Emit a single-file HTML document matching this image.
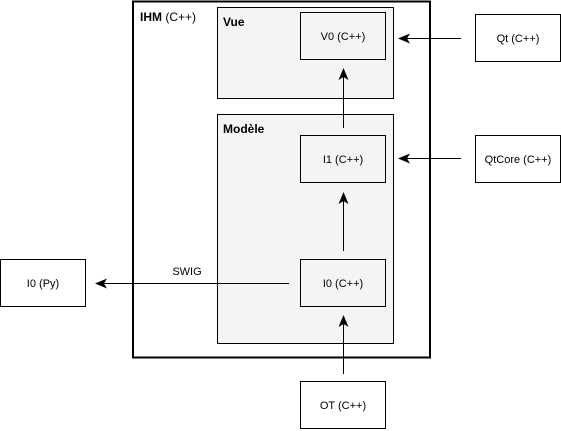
<!DOCTYPE html>
<html><head><meta charset="utf-8"><style>
html,body{margin:0;padding:0;background:#fff;}
svg{display:block;font-family:"Liberation Sans",sans-serif;}
</style></head><body>
<svg width="561" height="431" viewBox="0 0 561 431">
<defs><marker id="ah" markerWidth="12" markerHeight="10" refX="11" refY="5" orient="auto" markerUnits="userSpaceOnUse"><path d="M0,0 L12,5 L0,10 L3,5 Z" fill="#000"/></marker></defs>
<g>
<rect x="133" y="1.5" width="297" height="356" fill="#fff" stroke="#000" stroke-width="2"/>
<text x="140" y="21" font-size="12"><tspan font-weight="bold">IHM</tspan> (C++)</text></g>
<g>
<rect x="217.5" y="7.5" width="176" height="91" fill="#f4f4f4" stroke="#000" stroke-width="1"/>
<text x="223" y="26" font-size="12" font-weight="bold">Vue</text></g>
<g>
<rect x="217.5" y="114.5" width="176" height="229" fill="#f4f4f4" stroke="#000" stroke-width="1"/>
<text x="223" y="133" font-size="12" font-weight="bold">Modèle</text></g>
<g font-size="11" text-anchor="middle">
<g><rect x="300.5" y="12.5" width="85" height="47" fill="#f4f4f4" stroke="#000"/><text x="343" y="40">V0 (C++)</text></g>
<g><rect x="300.5" y="135.5" width="85" height="47" fill="#f4f4f4" stroke="#000"/><text x="343" y="163">I1 (C++)</text></g>
<g><rect x="300.5" y="259.5" width="85" height="47" fill="#f4f4f4" stroke="#000"/><text x="343" y="287">I0 (C++)</text></g>
<g><rect x="475.5" y="14.5" width="85" height="47" fill="#fff" stroke="#000"/><text x="518" y="42">Qt (C++)</text></g>
<g><rect x="475.5" y="135.5" width="85" height="47" fill="#fff" stroke="#000"/><text x="518" y="163">QtCore (C++)</text></g>
<g><rect x="0.5" y="259.5" width="85" height="47" fill="#fff" stroke="#000"/><text x="43" y="287">I0 (Py)</text></g>
<g><rect x="300.5" y="381.5" width="85" height="47" fill="#fff" stroke="#000"/><text x="343" y="409">OT (C++)</text></g>
</g>
<g stroke="#000" stroke-width="1" fill="none" marker-end="url(#ah)">
<line x1="461" y1="38.5" x2="399" y2="38.5"/>
<line x1="461" y1="158.5" x2="399" y2="158.5"/>
<line x1="343.5" y1="128" x2="343.5" y2="69"/>
<line x1="343.5" y1="251" x2="343.5" y2="193"/>
<line x1="343.5" y1="374" x2="343.5" y2="316"/>
<line x1="289" y1="283.5" x2="96" y2="283.5"/>
</g>
<text x="187" y="275" font-size="11" text-anchor="middle">SWIG</text>
</svg>
</body></html>
